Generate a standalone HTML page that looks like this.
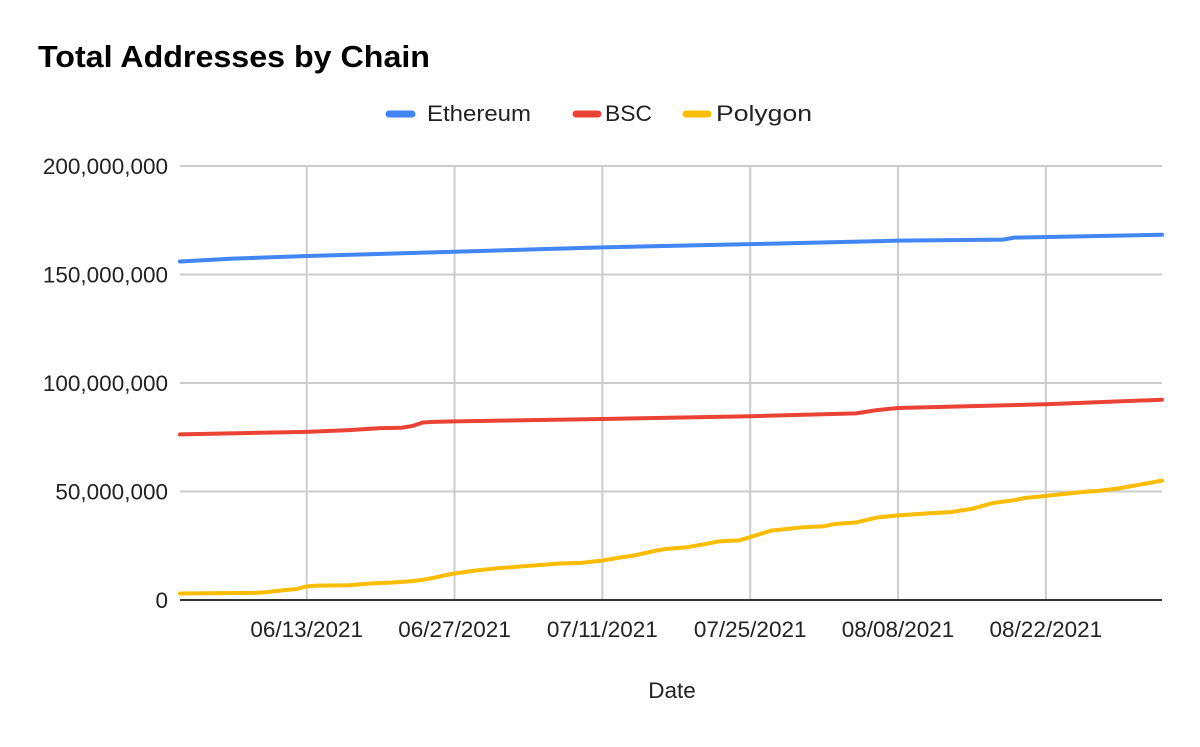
<!DOCTYPE html>
<html><head><meta charset="utf-8">
<style>
body{margin:0;background:#fff;}
svg text{font-family:"Liberation Sans",Arial,sans-serif;}
</style></head>
<body>
<svg width="1200" height="742" viewBox="0 0 1200 742" xmlns="http://www.w3.org/2000/svg">
<rect width="1200" height="742" fill="#fff"/>
<text x="38" y="67" font-size="31" font-weight="bold" fill="#000" textLength="392" lengthAdjust="spacingAndGlyphs">Total Addresses by Chain</text>
<g id="legend">
 <g><line x1="389" y1="114" x2="412" y2="114" stroke="#4285f4" stroke-width="7" stroke-linecap="round"/><text x="427" y="121" font-size="22.5" fill="#222" textLength="104" lengthAdjust="spacingAndGlyphs">Ethereum</text></g>
 <g><line x1="576" y1="114" x2="598" y2="114" stroke="#ea4335" stroke-width="7" stroke-linecap="round"/><text x="605" y="121" font-size="22.5" fill="#222" textLength="47" lengthAdjust="spacingAndGlyphs">BSC</text></g>
 <g><line x1="686" y1="114" x2="708" y2="114" stroke="#fbbc04" stroke-width="7" stroke-linecap="round"/><text x="716" y="121" font-size="22.5" fill="#222" textLength="96" lengthAdjust="spacingAndGlyphs">Polygon</text></g>
</g>
<g id="grid"></g>
<g id="series"></g>
<g id="axes"></g>
<text x="672" y="698" font-size="22.5" text-anchor="middle" fill="#222">Date</text>
</svg>
<script>
// day offsets from 06/01/2021
const ethDays = [0,5,12,26,40,54,68,78,79,93];
const ethVals = [156,157.3,158.5,160.5,162.5,164,165.6,166.1,167,168.3];
const bscDays = [0,12,16,19,21,22,23,24,26,40,54,64,66,68,82,93];
const bscVals = [76.3,77.5,78.3,79.2,79.4,80.2,81.8,82.1,82.3,83.4,84.7,86,87.5,88.5,90.2,92.3];
const polyDays = [0,7,8,10,11,12,13,16,18,20,22,23,24,25,26,28,30,33,36,38,40,42,43,45,46,48,50,51,53,54,56,58,59,61,62,64,66,68,71,73,74,75,77,79,80,82,84,86,87,89,93];
const polyVals = [3,3.3,3.5,4.6,5,6.3,6.6,6.8,7.6,8,8.7,9.3,10.2,11.3,12.2,13.6,14.6,15.7,16.8,17.1,18.2,19.8,20.5,22.7,23.5,24.3,26,27,27.5,29,32,33,33.5,34,35,35.7,38,39,40,40.5,41.3,42,44.7,46,47,48,49,50,50.3,51.5,55];
const yTicks = [0,50,100,150,200];
const yTickLabels = ["0","50,000,000","100,000,000","150,000,000","200,000,000"];
const xTickDays = [12,26,40,54,68,82];
const xTickLabels = ["06/13/2021","06/27/2021","07/11/2021","07/25/2021","08/08/2021","08/22/2021"];

const NS="http://www.w3.org/2000/svg";
const X0=180,X1=1162,Y0=600,Y1=166,DMAX=93;
const xs=d=>X0+(X1-X0)*d/DMAX;
const ys=v=>Y0-(Y0-Y1)*v/200;
function mk(tag,attrs,parent){const e=document.createElementNS(NS,tag);for(const k in attrs)e.setAttribute(k,attrs[k]);parent.appendChild(e);return e;}
const grid=document.getElementById('grid'),axes=document.getElementById('axes'),series=document.getElementById('series');
yTicks.forEach((t,i)=>{
 if(t>0){const l=mk('line',{x1:X0,x2:X1,y1:ys(t),y2:ys(t),stroke:'#cccccc','stroke-width':2},grid);
 
 }
 const tx=mk('text',{x:168,y:ys(t)+8,'font-size':22.5,'text-anchor':'end',fill:'#222'},axes);
 tx.textContent=yTickLabels[i];
 
 
});
xTickDays.forEach((d,i)=>{
 const l=mk('line',{x1:xs(d),x2:xs(d),y1:Y1,y2:Y0,stroke:'#cccccc','stroke-width':2},grid);
 
 
 const tx=mk('text',{x:xs(d),y:637,'font-size':22.5,'text-anchor':'middle',fill:'#222'},axes);
 tx.textContent=xTickLabels[i];
 
 
});
const base=mk('line',{x1:X0,x2:X1,y1:Y0,y2:Y0,stroke:'#333','stroke-width':2},axes);


function line(days,vals,color,name){
 const p=mk('polyline',{points:days.map((d,i)=>xs(d)+','+ys(vals[i])).join(' '),fill:'none',stroke:color,'stroke-width':4,'stroke-linejoin':'round','stroke-linecap':'round'},series);
 
 
}
line(ethDays,ethVals,'#4285f4','ethereum-line');
line(bscDays,bscVals,'#ea4335','bsc-line');
line(polyDays,polyVals,'#fbbc04','polygon-line');
</script>
</body></html>
